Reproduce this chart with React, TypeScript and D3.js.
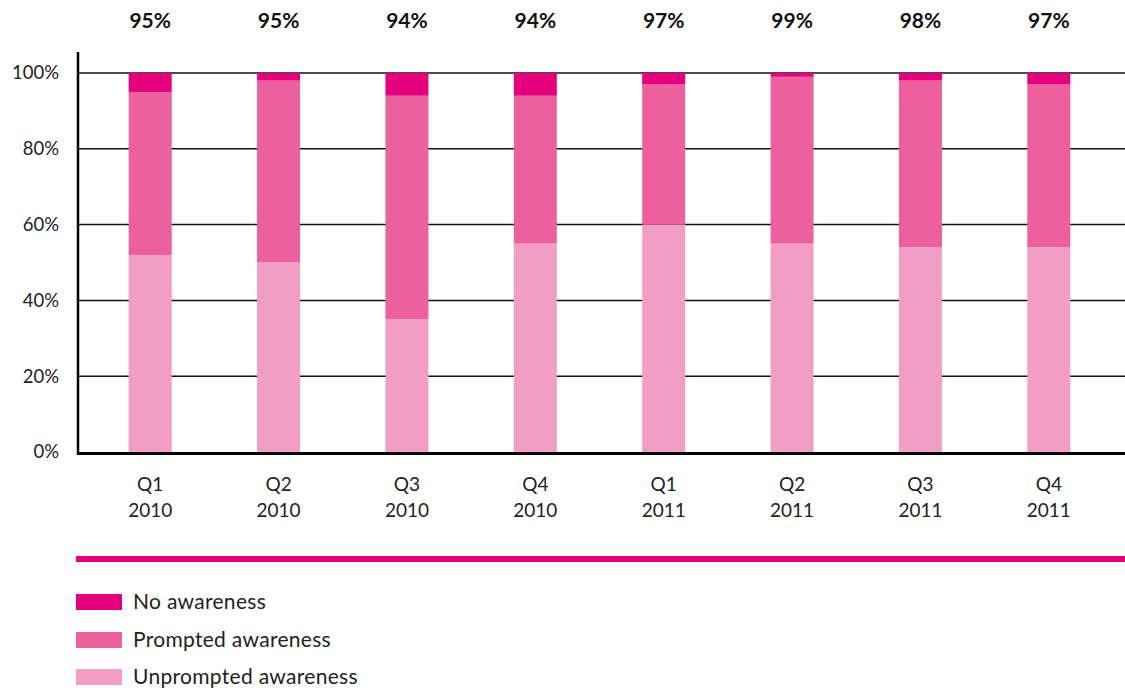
import React from "react";
import * as d3 from "d3";

const categories = ["Q1|2010", "Q2|2010", "Q3|2010", "Q4|2010", "Q1|2011", "Q2|2011", "Q3|2011", "Q4|2011"];
const unprompted = [52, 50, 35, 55, 60, 55, 54, 54];
const prompted = [43, 48, 59, 39, 37, 44, 44, 43];
const noAwareness = [5, 2, 6, 6, 3, 1, 2, 3];
const topLabels = ["95%", "95%", "94%", "94%", "97%", "99%", "98%", "97%"];
const yTicks = [0, 20, 40, 60, 80, 100];

const seriesNames = ["Unprompted awareness", "Prompted awareness", "No awareness"];
const colors = ["#f29ec4", "#ec609e", "#e5007e"];

const W = 1125;
const H = 690;
const FONT = "Lato, 'Open Sans', sans-serif";

export default function App() {
  const x = d3.scaleBand<string>().domain(categories).range([86, 1113]).paddingInner(0.665).paddingOuter(0.3325);
  const y = d3.scaleLinear().domain([0, 100]).range([452, 73]);

  const rows = categories.map((c, i) => ({
    cat: c,
    "Unprompted awareness": unprompted[i],
    "Prompted awareness": prompted[i],
    "No awareness": noAwareness[i],
  }));
  const stack = d3.stack<any>().keys(seriesNames)(rows);

  const legendOrder = [2, 1, 0];
  const legendY = [594, 632, 669];

  return (
    <svg width={W} height={H} style={{ position: "absolute", left: 0, top: 0 }} fontFamily={FONT}>
      <rect width={W} height={H} fill="#fff" />
      {yTicks.map((t) => (
        <g key={t}>
          {t > 0 && <line x1={78} x2={W} y1={y(t)} y2={y(t)} stroke="#111" strokeWidth={1.5} />}
          <text x={59} y={y(t)} dy="0.35em" textAnchor="end" fontSize={18.5} fill="#222">
            {t}%
          </text>
        </g>
      ))}
      {stack.map((s, si) => (
        <g key={si} fill={colors[si]}>
          {s.map((d, i) => (
            <rect
              key={i}
              x={x(categories[i])}
              width={x.bandwidth()}
              y={y(d[1])}
              height={y(d[0]) - y(d[1])}
            />
          ))}
        </g>
      ))}
      <line x1={78} x2={78} y1={52} y2={455} stroke="#000" strokeWidth={2.5} />
      <line x1={77} x2={W} y1={453.5} y2={453.5} stroke="#000" strokeWidth={3} />
      {categories.map((c, i) => {
        const cx = (x(c) as number) + x.bandwidth() / 2;
        const [q, yr] = c.split("|");
        return (
          <g key={c}>
            <text x={cx} y={21} dy="0.35em" textAnchor="middle" fontSize={21} fontWeight="bold" fill="#111">
              {topLabels[i]}
            </text>
            <text x={cx} y={484} dy="0.35em" textAnchor="middle" fontSize={19} fill="#222">
              {q}
            </text>
            <text x={cx} y={510} dy="0.35em" textAnchor="middle" fontSize={19} fill="#222">
              {yr}
            </text>
          </g>
        );
      })}
      <rect x={76} y={556} width={W - 76} height={6} fill="#e5007e" />
      {legendOrder.map((si, k) => (
        <g key={si}>
          <rect x={76} y={legendY[k]} width={46} height={16} fill={colors[si]} />
          <text x={133} y={legendY[k] + 8} dy="0.35em" fontSize={21} letterSpacing={0.3} fill="#222">
            {seriesNames[si]}
          </text>
        </g>
      ))}
    </svg>
  );
}
